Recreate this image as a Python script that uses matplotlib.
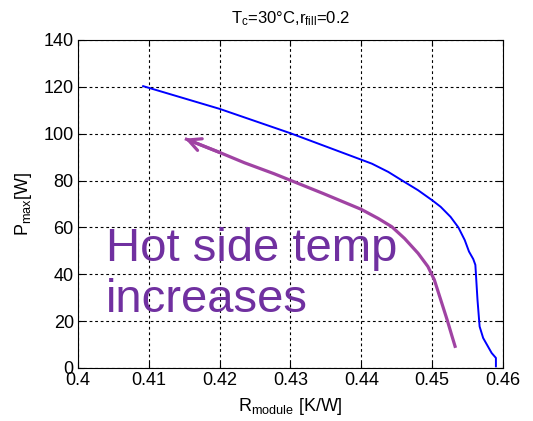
import matplotlib
matplotlib.use("Agg")
import matplotlib.pyplot as plt

plt.rcParams['font.family'] = ['Liberation Sans', 'DejaVu Sans']
plt.rcParams['mathtext.fontset'] = 'custom'
plt.rcParams['mathtext.rm'] = 'Liberation Sans'
plt.rcParams['mathtext.it'] = 'Liberation Sans'

# blue curve: R_module [K/W] vs P_max [W]
r_module = [0.4092, 0.4200, 0.4300, 0.4346, 0.4400, 0.4415, 0.4438, 0.4461,
            0.4480, 0.4500, 0.4512, 0.4526, 0.4537, 0.4546, 0.4552, 0.4558,
            0.4561, 0.4562, 0.4564, 0.4567, 0.4572, 0.4584, 0.4590, 0.4590]
p_max = [120.3, 110.6, 100.2, 95.0, 88.9, 87.2, 83.7, 79.4,
         75.9, 71.6, 68.8, 64.5, 60.0, 54.6, 49.7, 46.5,
         44.0, 39.0, 29.1, 17.7, 12.8, 6.4, 4.3, 0.7]

# purple annotation arrow path (tail -> head)
arrow_x = [0.4533, 0.4528, 0.4521, 0.4512, 0.4503, 0.4494, 0.4480, 0.4461,
           0.4443, 0.4424, 0.4400, 0.4346, 0.4300, 0.4277, 0.4235, 0.4200,
           0.4151]
arrow_y = [8.6, 13.6, 20.7, 29.2, 37.7, 43.3, 49.0, 55.3,
           60.3, 63.8, 67.7, 74.5, 80.1, 82.9, 87.6, 92.0,
           97.9]

fig = plt.figure(figsize=(5.33, 4.21), dpi=100)
ax = fig.add_axes([0.1463, 0.1259, 0.7974, 0.7791])

ax.plot(r_module, p_max, color='#0000ff', lw=1.4)

ax.plot(arrow_x, arrow_y, color='#a043a3', lw=2.3, solid_capstyle='butt',
        solid_joinstyle='round')
ax.annotate('', xy=(arrow_x[-1], arrow_y[-1]), xytext=(arrow_x[-2], arrow_y[-2]),
            arrowprops=dict(arrowstyle='->,head_length=0.9,head_width=0.45',
                            color='#a043a3', lw=2.3, shrinkA=0, shrinkB=0))

ax.text(0.4039, 23.9, 'Hot side temp\nincreases', color='#7030a0',
        fontsize=34, linespacing=1.22, va='baseline', ha='left')

ax.set_xlim(0.4, 0.46)
ax.set_ylim(0, 140)
ax.set_xticks([0.4, 0.41, 0.42, 0.43, 0.44, 0.45, 0.46])
ax.set_xticklabels(['0.4', '0.41', '0.42', '0.43', '0.44', '0.45', '0.46'])
ax.set_yticks(range(0, 141, 20))
ax.grid(True, color='black', linestyle=(0, (2.5, 2.5)), lw=0.8)
ax.tick_params(direction='in', top=True, right=True, length=4, labelsize=13, pad=3)

ax.set_xlabel('R$_{\\mathrm{module}}$ [K/W]', fontsize=13, labelpad=5)
ax.set_ylabel('P$_{\\mathrm{max}}$[W]', fontsize=13, labelpad=7)
ax.set_title('T$_{\\mathrm{c}}$=30\u00b0C,r$_{\\mathrm{fill}}$=0.2', fontsize=12, pad=12)

fig.savefig('out.png', dpi=100)
